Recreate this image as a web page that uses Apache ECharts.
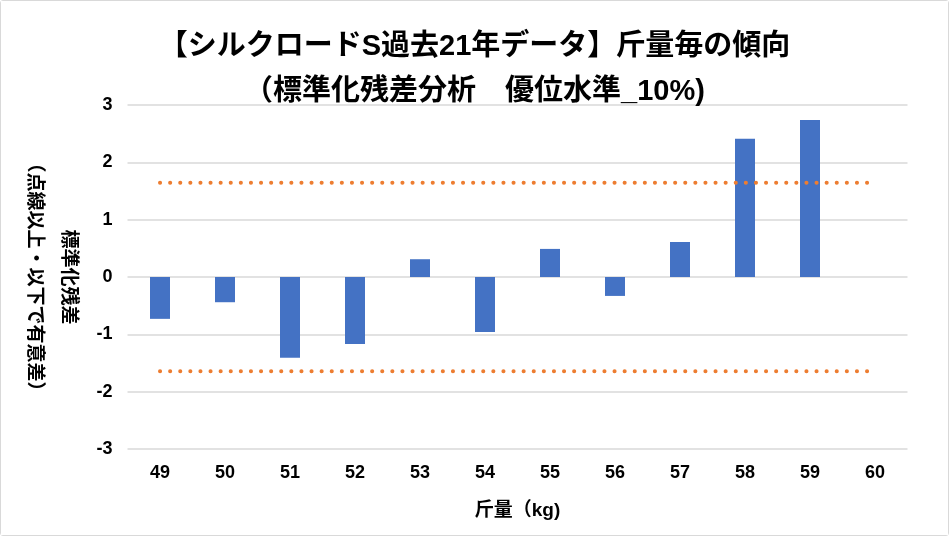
<!DOCTYPE html>
<html>
<head>
<meta charset="utf-8">
<script src="https://cdn.jsdelivr.net/npm/echarts@6/dist/echarts.min.js"></script>
<style>
html,body{margin:0;padding:0;background:#fff;}
#c{width:947px;height:534px;border:1px solid #d9d9d9;border-radius:3px;}
</style>
</head>
<body>
<div id="c"></div>
<script>
const categories = ['49','50','51','52','53','54','55','56','57','58','59','60'];
const residuals = [-0.73, -0.44, -1.41, -1.17, 0.31, -0.96, 0.49, -0.33, 0.61, 2.41, 2.74, 0];
const upperThreshold = [1.645,1.645,1.645,1.645,1.645,1.645,1.645,1.645,1.645,1.645,1.645,1.645];
const lowerThreshold = [-1.645,-1.645,-1.645,-1.645,-1.645,-1.645,-1.645,-1.645,-1.645,-1.645,-1.645,-1.645];
const titleText = '【シルクロードS過去21年データ】斤量毎の傾向\n（標準化残差分析　優位水準_10%)';
const yName = '標準化残差\n（点線以上・以下で有意差）';
const xName = '斤量（kg)';

const font = '"Liberation Sans", Arial, "Noto Sans CJK JP", sans-serif';
const chart = echarts.init(document.getElementById('c'));
chart.setOption({
  animation: false,
  backgroundColor: '#fff',
  title: {
    text: titleText,
    left: 'center',
    top: 18,
    textStyle: {fontFamily: font, fontSize: 29, fontWeight: 'bold', color: '#000', lineHeight: 45}
  },
  grid: {left: 126.5, right: 40.5, top: 104, bottom: 86, containLabel: false},
  xAxis: {
    type: 'category',
    data: categories,
    boundaryGap: true,
    axisLine: {show: false, onZero: false},
    axisTick: {show: false},
    axisLabel: {margin: 15, fontFamily: font, fontSize: 18, fontWeight: 'bold', color: '#000'},
    name: xName,
    nameLocation: 'middle',
    nameGap: 52,
    nameTextStyle: {fontFamily: font, fontSize: 19, fontWeight: 'bold', color: '#000'}
  },
  yAxis: {
    type: 'value',
    min: -3, max: 3, interval: 1,
    axisLine: {show: false},
    axisTick: {show: false},
    splitLine: {lineStyle: {color: '#d9d9d9', width: 1.5}},
    axisLabel: {margin: 15, fontFamily: font, fontSize: 18, fontWeight: 'bold', color: '#000'},
    name: yName,
    nameLocation: 'middle',
    nameRotate: -90,
    nameGap: 41,
    nameTextStyle: {fontFamily: font, fontSize: 19, fontWeight: 'bold', color: '#000', lineHeight: 34, align: 'center'}
  },
  series: [
    {type: 'bar', data: residuals, barWidth: 20, itemStyle: {color: '#4472C4'}},
    {type: 'line', data: upperThreshold, symbol: 'none', silent: true,
     lineStyle: {color: '#ED7D31', width: 4, type: [0.1, 10], cap: 'round'}},
    {type: 'line', data: lowerThreshold, symbol: 'none', silent: true,
     lineStyle: {color: '#ED7D31', width: 4, type: [0.1, 10], cap: 'round'}}
  ]
});
</script>
</body>
</html>
